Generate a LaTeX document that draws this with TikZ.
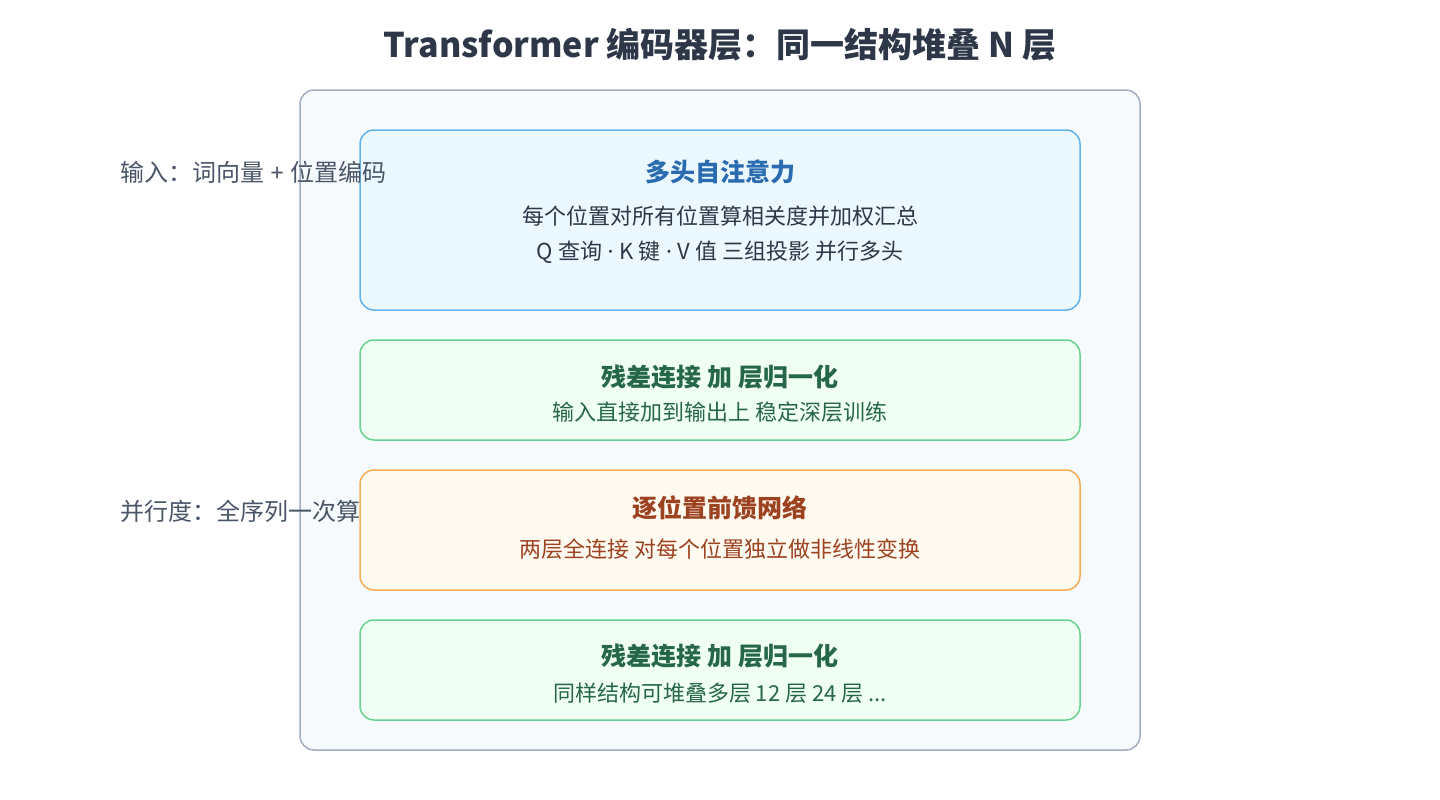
\documentclass[tikz,border=0pt]{standalone}
\usepackage{fontspec}
\setmainfont{Noto Sans CJK SC}
\newfontfamily\latinfont{Noto Sans}
\definecolor{titlegray}{HTML}{2D3748}
\definecolor{sidegray}{HTML}{4A5568}
\definecolor{panelline}{HTML}{A0AEC0}
\definecolor{panelfill}{HTML}{F7FAFC}
\definecolor{blueline}{HTML}{63B3ED}
\definecolor{bluefill}{HTML}{EBF8FF}
\definecolor{bluetext}{HTML}{2B6CB0}
\definecolor{greenline}{HTML}{68D391}
\definecolor{greenfill}{HTML}{F0FFF4}
\definecolor{greentext}{HTML}{276749}
\definecolor{orangeline}{HTML}{F6AD55}
\definecolor{orangefill}{HTML}{FFFAF0}
\definecolor{orangetext}{HTML}{9C4221}

\begin{document}
\begin{tikzpicture}[x=1pt,y=-1pt,
  boxstyle/.style={rounded corners=14pt,line width=1.5pt,anchor=north west,
    minimum width=720pt,inner sep=0pt,outer sep=0pt},
  headstyle/.style={font=\fontsize{25}{29}\selectfont\bfseries},
  linestyle/.style={font=\fontsize{22}{26}\selectfont},
  sidestyle/.style={font=\fontsize{24}{28}\selectfont,text=sidegray,anchor=west,inner sep=0pt}]
  \useasboundingbox (0,0) rectangle (1440,800);

  \node [font=\fontsize{34}{40}\selectfont\bfseries,text=titlegray] (title) at (720,45)
    {Transformer 编码器层：同一结构堆叠 N 层};

  % outer panel
  \node [boxstyle,draw=panelline,fill=panelfill,minimum width=840pt,minimum height=660pt]
    (panel) at (300,90) {};

  % attention block
  \node [boxstyle,draw=blueline,fill=bluefill,minimum height=180pt] (attn) at (360,130) {};
  \node [headstyle,text=bluetext] (attnhead) at (720,172) {多头自注意力};
  \node [linestyle,text=titlegray] (attnone) at (720,216) {每个位置对所有位置算相关度并加权汇总};
  \node [linestyle,text=titlegray] (attntwo) at (720,252)
    {Q 查询{\latinfont\ ·\ }K 键{\latinfont\ ·\ }V 值 三组投影 并行多头};

  % first add & norm
  \node [boxstyle,draw=greenline,fill=greenfill,minimum height=100pt] (normone) at (360,340) {};
  \node [headstyle,text=greentext] (normonehead) at (720,377) {残差连接 加 层归一化};
  \node [linestyle,text=greentext] (normoneline) at (720,412) {输入直接加到输出上 稳定深层训练};

  % feed forward
  \node [boxstyle,draw=orangeline,fill=orangefill,minimum height=120pt] (ffn) at (360,470) {};
  \node [headstyle,text=orangetext] (ffnhead) at (720,508) {逐位置前馈网络};
  \node [linestyle,text=orangetext] (ffnline) at (720,549) {两层全连接 对每个位置独立做非线性变换};

  % second add & norm
  \node [boxstyle,draw=greenline,fill=greenfill,minimum height=100pt] (normtwo) at (360,620) {};
  \node [headstyle,text=greentext] (normtwohead) at (720,656) {残差连接 加 层归一化};
  \node [linestyle,text=greentext] (normtwoline) at (720,693) {同样结构可堆叠多层 12 层 24 层 ...};

  % side notes
  \node [sidestyle] (input) at (120,172) {输入：词向量{\latinfont\ +\ }位置编码};
  \node [sidestyle] (parallel) at (120,511) {并行度：全序列一次算};

\end{tikzpicture}
\end{document}
